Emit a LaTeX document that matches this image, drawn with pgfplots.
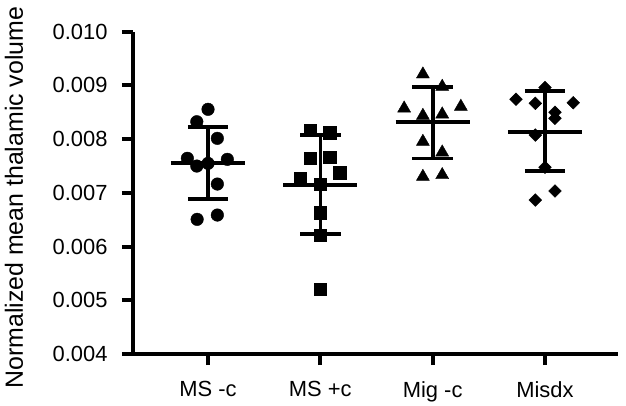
\documentclass[border=0pt]{standalone}
\usepackage{fontspec}
\setmainfont{Liberation Sans}
\usepackage{pgfplots}
\pgfplotsset{compat=1.18}
\begin{document}
\begin{tikzpicture}
\useasboundingbox (-133bp,-52bp) rectangle (493bp,354bp);
\begin{axis}[
  at={(0,0)}, anchor=south west,
  scale only axis, width=485bp, height=322.3bp,
  xmin=-0.668, xmax=3.65, ymin=0.004, ymax=0.010,
  axis lines=left, axis line style={-, line width=4bp},
  tick align=outside, major tick length=11bp,
  every tick/.append style={line width=4bp, black},
  major tick style={line width=4bp, black},
  xtick={0,1,2,3}, xticklabels={MS -c, MS +c, Mig -c, Misdx},
  ytick={0.004,0.005,0.006,0.007,0.008,0.009,0.010},
  yticklabels={0.004,0.005,0.006,0.007,0.008,0.009,0.010},
  scaled y ticks=false,
  ticklabel style={font=\fontsize{22}{26}\selectfont},
  yticklabel style={xshift=-11bp},
  xticklabel style={yshift=-13bp},
  ylabel={Normalized mean thalamic volume},
  ylabel style={font=\fontsize{25}{30}\selectfont, at={(axis description cs:-0.2454,0.485)}, anchor=center},
  clip=false,
  unbounded coords=jump,
]
% MS -c
\addplot[only marks, mark=*, mark size=6.3bp, black] coordinates {
(0,0.008555) (-0.10,0.008324) (0.083,0.008015) (-0.184,0.007643) (-0.10,0.007499)
(0,0.007549) (0.172,0.007624) (0.083,0.007164) (-0.097,0.006507) (0.083,0.006587)};
\addplot[black, line width=3.7bp, no marks] coordinates {
(-0.33,0.00756) (0.33,0.00756) (nan,nan) (0,0.00822) (0,0.00689) (nan,nan)
(-0.18,0.00822) (0.18,0.00822) (nan,nan) (-0.18,0.00689) (0.18,0.00689)};
% MS +c
\addplot[only marks, mark=square*, mark size=6.3bp, black] coordinates {
(0.911,0.008170) (1.083,0.008119) (0.911,0.007643) (1.083,0.007661) (1.172,0.007374)
(0.822,0.007270) (1,0.007164) (1,0.006629) (1,0.006214) (1,0.005209)};
\addplot[black, line width=3.7bp, no marks] coordinates {
(0.67,0.007145) (1.33,0.007145) (nan,nan) (1,0.008076) (1,0.006233) (nan,nan)
(0.82,0.008076) (1.18,0.008076) (nan,nan) (0.82,0.006233) (1.18,0.006233)};
% Mig -c
\addplot[only marks, mark=triangle*, mark size=7.5bp, black] coordinates {
(1.913,0.009207) (2.085,0.008977) (1.746,0.008573) (1.913,0.008437) (2.085,0.008462)
(2.251,0.008605) (1.913,0.007953) (2.085,0.007754) (1.913,0.007301) (2.085,0.007333)};
\addplot[black, line width=3.7bp, no marks] coordinates {
(1.67,0.008318) (2.33,0.008318) (nan,nan) (2,0.008965) (2,0.007642) (nan,nan)
(1.82,0.008965) (2.18,0.008965) (nan,nan) (1.82,0.007642) (2.18,0.007642)};
% Misdx
\addplot[only marks, mark=square*, mark options={rotate=45}, mark size=4.5bp, black] coordinates {
(3,0.008960) (2.742,0.008741) (2.914,0.008667) (3.252,0.008678) (3.089,0.008499)
(3.089,0.008387) (2.914,0.008076) (3,0.007475) (3.089,0.007034) (2.914,0.006866)};
\addplot[black, line width=3.7bp, no marks] coordinates {
(2.67,0.008138) (3.33,0.008138) (nan,nan) (3,0.008901) (3,0.007406) (nan,nan)
(2.82,0.008901) (3.18,0.008901) (nan,nan) (2.82,0.007406) (3.18,0.007406)};
\end{axis}
\end{tikzpicture}
\end{document}
